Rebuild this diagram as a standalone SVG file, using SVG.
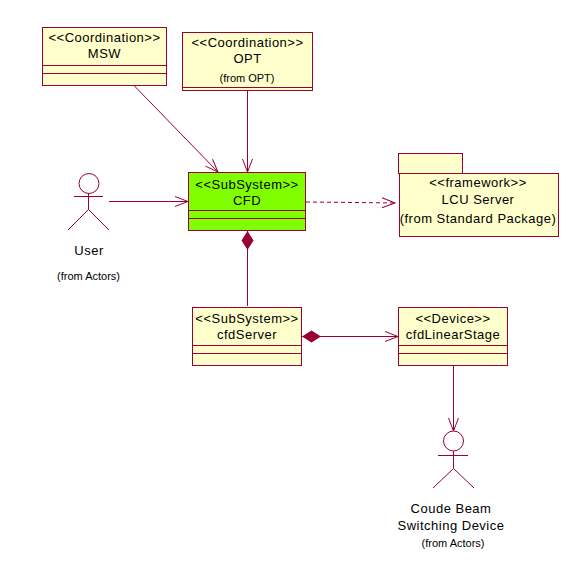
<svg xmlns="http://www.w3.org/2000/svg" width="585" height="582" viewBox="0 0 585 582">
<style>
text{font-family:"Liberation Sans",Arial,sans-serif;font-size:13px;fill:#000;text-anchor:middle;letter-spacing:.5px}
text.s{font-size:11px;letter-spacing:0}
.b{fill:#ffffcc;stroke:#990033;stroke-width:1}
.g{fill:#80ff00;stroke:#990033;stroke-width:1}
.l{fill:none;stroke:#990033;stroke-width:1}
</style>
<defs>
<marker id="arrow" markerUnits="userSpaceOnUse" markerWidth="16" markerHeight="14" refX="14" refY="7" orient="auto"><path d="M1 2L14 7L1 12" fill="none" stroke="#990033"/></marker>
<marker id="diamond" markerUnits="userSpaceOnUse" markerWidth="21" markerHeight="14" refX="20" refY="7" orient="auto"><path d="M1 7L10.500 1L20 7L10.500 13Z" fill="#990033"/></marker>
</defs>
<g id="connectors" class="l">
<path d="M134 85.500L218 172" marker-end="url(#arrow)"/>
<path d="M247.500 90.500V172" marker-end="url(#arrow)"/>
<path d="M109 201.500H188" marker-end="url(#arrow)"/>
<path d="M306 202L355 202.500L395 203" stroke-dasharray="4 3" marker-end="url(#arrow)"/>
<path d="M247.500 306V231" marker-end="url(#diamond)"/>
<path d="M398 336.500H302" marker-end="url(#diamond)"/>
<path d="M321 336.500H398" marker-end="url(#arrow)"/>
<path d="M453.500 366V431" marker-end="url(#arrow)"/>
</g>
<g id="msw">
<rect class="b" x="42.500" y="27.500" width="124" height="58"/>
<path class="l" d="M42.500 65.500H166.500M42.500 73.500H166.500"/>
<text x="104.500" y="42">&lt;&lt;Coordination&gt;&gt;</text>
<text x="104.500" y="58">MSW</text>
</g>
<g id="opt">
<rect class="b" x="182.500" y="32.500" width="130" height="58"/>
<path class="l" d="M182.500 87.500H312.500"/>
<text x="247.500" y="47">&lt;&lt;Coordination&gt;&gt;</text>
<text x="247.500" y="63">OPT</text>
<text class="s" x="247" y="82">(from OPT)</text>
</g>
<g id="cfd">
<rect class="g" x="188.500" y="172.500" width="117" height="58"/>
<path class="l" d="M188.500 210.500H305.500M188.500 218.500H305.500"/>
<text x="247" y="189">&lt;&lt;SubSystem&gt;&gt;</text>
<text x="247" y="205">CFD</text>
</g>
<g id="lcu-server">
<rect class="b" x="398.500" y="153.500" width="64" height="20"/>
<rect class="b" x="399.500" y="173.500" width="159" height="63"/>
<text x="478" y="187">&lt;&lt;framework&gt;&gt;</text>
<text x="478" y="204">LCU Server</text>
<text x="478" y="223">(from Standard Package)</text>
</g>
<g id="cfd-server">
<rect class="b" x="192.500" y="307.500" width="109" height="58"/>
<path class="l" d="M192.500 345.500H301.500M192.500 353.500H301.500"/>
<text x="247" y="323">&lt;&lt;SubSystem&gt;&gt;</text>
<text x="247" y="339">cfdServer</text>
</g>
<g id="cfd-linear-stage">
<rect class="b" x="398.500" y="307.500" width="109" height="58"/>
<path class="l" d="M398.500 345.500H507.500M398.500 353.500H507.500"/>
<text x="453" y="323">&lt;&lt;Device&gt;&gt;</text>
<text x="453" y="339">cfdLinearStage</text>
</g>
<g id="user">
<circle class="l" cx="89" cy="183.500" r="10"/>
<path class="l" d="M74 196.500H103M88.500 193.500V209.500M88.500 209.500L68 230M88.500 209.500L109 230"/>
<text x="89" y="255">User</text>
<text class="s" x="88.500" y="280">(from Actors)</text>
</g>
<g id="coude-beam-switching-device">
<circle class="l" cx="453.500" cy="441" r="10"/>
<path class="l" d="M438 455.500H468M453.500 451V468.500M453.500 468.500L433 488M453.500 468.500L474 488"/>
<text x="451" y="513">Coude Beam</text>
<text x="451" y="530">Switching Device</text>
<text class="s" x="453" y="547">(from Actors)</text>
</g>
</svg>
